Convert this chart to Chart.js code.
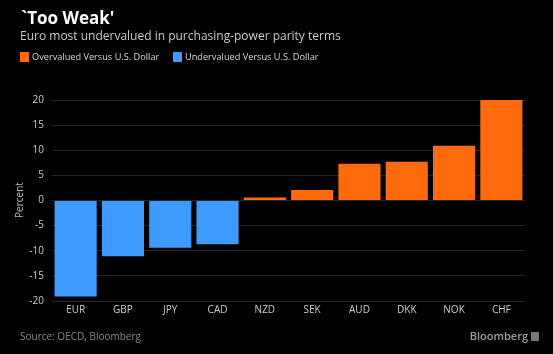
<!DOCTYPE html>
<html>
<head>
<meta charset="utf-8">
<script src="https://cdn.jsdelivr.net/npm/chart.js@4"></script>
<style>
  html, body { margin: 0; padding: 0; background: #000; }
  #wrap { width: 553px; height: 354px; position: relative; }
  canvas { display: block; }
</style>
</head>
<body>
<div id="wrap"><canvas id="c" width="553" height="354"></canvas></div>
<script>
const categories = ["EUR", "GBP", "JPY", "CAD", "NZD", "SEK", "AUD", "DKK", "NOK", "CHF"];
const values = [-19.1, -11.1, -9.4, -8.7, 0.6, 2.1, 7.3, 7.7, 10.9, 20.1];
const yTicks = [-20, -15, -10, -5, 0, 5, 10, 15, 20];
const legendLabels = ["Overvalued Versus U.S. Dollar", "Undervalued Versus U.S. Dollar"];
const titleText = "`Too Weak'";
const subtitleText = "Euro most undervalued in purchasing-power parity terms";
const sourceText = "Source: OECD, Bloomberg";

const ORANGE = "#ff6a0d";
const BLUE = "#3d9bff";
const FONT = "'Open Sans', 'DejaVu Sans', sans-serif";

const decor = {
  id: "decor",
  afterDraw(chart) {
    const ctx = chart.ctx;
    ctx.save();
    ctx.textBaseline = "middle";
    ctx.textAlign = "left";
    ctx.fillStyle = "#ffffff";
    ctx.font = "bold 17px " + FONT;
    ctx.fillText(titleText, 21, 19);
    ctx.fillStyle = "#c8c8c8";
    ctx.font = "12px " + FONT;
    ctx.fillText(subtitleText, 20, 37);
    // legend
    ctx.font = "9.2px " + FONT;
    ctx.fillStyle = ORANGE;
    ctx.fillRect(20, 52, 9, 10);
    ctx.fillStyle = "#d8d8d8";
    ctx.fillText(legendLabels[0], 32, 57.5);
    ctx.fillStyle = BLUE;
    ctx.fillRect(173, 52, 9, 10);
    ctx.fillStyle = "#d8d8d8";
    ctx.fillText(legendLabels[1], 185, 57.5);
    // y axis title
    ctx.save();
    ctx.translate(20, 200);
    ctx.rotate(-Math.PI / 2);
    ctx.textAlign = "center";
    ctx.fillStyle = "#bbbbbb";
    ctx.font = "10px " + FONT;
    ctx.fillText("Percent", 0, 0);
    ctx.restore();
    // footer
    ctx.fillStyle = "#8a8a8a";
    ctx.font = "10px " + FONT;
    ctx.fillText(sourceText, 20, 337);
    ctx.textAlign = "right";
    ctx.fillStyle = "#a0a0a0";
    ctx.font = "600 11px " + FONT;
    ctx.fillText("Bloomberg", 528, 337);
    ctx.fillStyle = "#777";
    ctx.fillRect(531, 332, 8, 9);
    ctx.restore();
  }
};

new Chart(document.getElementById("c"), {
  type: "bar",
  data: {
    labels: categories,
    datasets: [{
      data: values,
      backgroundColor: values.map(v => v >= 0 ? ORANGE : BLUE),
      borderWidth: 0,
      categoryPercentage: 1.0,
      barPercentage: 0.89
    }]
  },
  options: {
    responsive: false,
    animation: false,
    devicePixelRatio: 1,
    layout: { padding: { top: 100, right: 28, bottom: 35, left: 0 } },
    plugins: {
      legend: { display: false },
      title: { display: false },
      tooltip: { enabled: false }
    },
    scales: {
      x: {
        grid: { display: false, drawTicks: false },
        border: { display: false },
        ticks: { color: "#cccccc", font: { size: 10, family: FONT }, padding: 3, maxRotation: 0 }
      },
      y: {
        min: -20,
        max: 20,
        afterFit(scale) { scale.width = 52; },
        afterBuildTicks(scale) { scale.ticks = yTicks.map(v => ({ value: v })); },
        grid: { color: "#262626", lineWidth: 1, drawTicks: false },
        border: { display: false },
        ticks: { color: "#cccccc", font: { size: 10, family: FONT }, padding: 8 }
      }
    }
  },
  plugins: [decor]
});
</script>
</body>
</html>
